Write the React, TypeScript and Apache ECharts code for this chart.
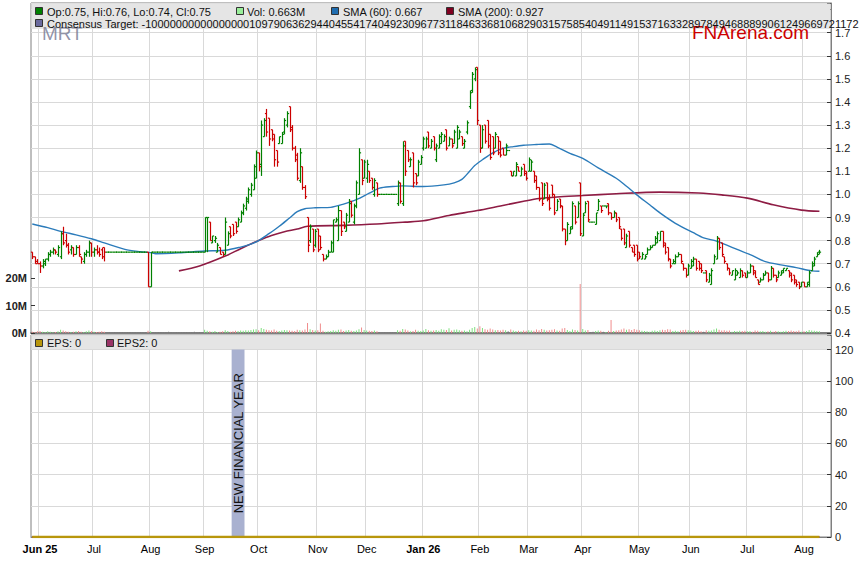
import React, { useEffect, useRef } from "react";
import * as echarts from "echarts";

const FONT = "'Liberation Sans', Arial, Helvetica, sans-serif";

// ---------- categories / ticks ----------
const slotCount = 311;
const monthStarts = [3, 24, 46, 67, 88, 111, 130, 152, 174, 193, 214, 236, 256, 278, 300];
const monthLabels = ["Jun 25", "Jul", "Aug", "Sep", "Oct", "Nov", "Dec", "Jan 26", "Feb", "Mar", "Apr", "May", "Jun", "Jul", "Aug"];
const yearLabels = ["Jun 25", "Jan 26"];

// ---------- daily OHLC (open, high, low, close) ----------
const ohlc: number[][] = [
  [0.75,0.75,0.72,0.73],[0.73,0.73,0.70,0.70],[0.71,0.72,0.70,0.70],[0.70,0.71,0.66,0.69],[0.69,0.72,0.68,0.71],
  [0.70,0.72,0.69,0.72],[0.72,0.75,0.71,0.74],[0.74,0.76,0.73,0.75],[0.75,0.77,0.74,0.76],[0.76,0.76,0.74,0.75],
  [0.74,0.78,0.73,0.77],[0.73,0.84,0.72,0.83],[0.83,0.86,0.78,0.79],[0.80,0.83,0.77,0.78],[0.78,0.79,0.74,0.75],
  [0.76,0.78,0.74,0.77],[0.77,0.77,0.73,0.74],[0.74,0.78,0.74,0.77],[0.77,0.78,0.73,0.74],[0.73,0.73,0.70,0.72],
  [0.71,0.75,0.70,0.74],[0.74,0.76,0.73,0.75],[0.75,0.80,0.73,0.79],[0.79,0.79,0.73,0.75],[0.75,0.77,0.73,0.76],
  [0.76,0.78,0.74,0.75],[0.75,0.77,0.73,0.74],[0.76,0.77,0.72,0.73],[0.77,0.77,0.71,0.75],
  [0.75,0.75,0.75,0.75],[0.75,0.75,0.75,0.75],[0.75,0.75,0.75,0.75],[0.75,0.75,0.75,0.75],[0.75,0.75,0.75,0.75],
  [0.75,0.75,0.75,0.75],[0.75,0.75,0.75,0.75],[0.75,0.75,0.75,0.75],[0.75,0.75,0.75,0.75],[0.75,0.75,0.75,0.75],
  [0.75,0.75,0.75,0.75],[0.75,0.75,0.75,0.75],[0.75,0.75,0.75,0.75],[0.75,0.75,0.75,0.75],[0.75,0.75,0.75,0.75],
  [0.75,0.75,0.75,0.75],
  [0.75,0.75,0.60,0.60],[0.60,0.75,0.60,0.75],
  [0.75,0.75,0.75,0.75],[0.75,0.75,0.75,0.75],[0.75,0.75,0.75,0.75],[0.75,0.75,0.75,0.75],[0.75,0.75,0.75,0.75],
  [0.75,0.75,0.75,0.75],[0.75,0.75,0.75,0.75],[0.75,0.75,0.75,0.75],[0.75,0.75,0.75,0.75],[0.75,0.75,0.75,0.75],
  [0.75,0.75,0.75,0.75],[0.75,0.75,0.75,0.75],[0.75,0.75,0.75,0.75],[0.75,0.75,0.75,0.75],[0.75,0.75,0.75,0.75],
  [0.75,0.75,0.75,0.75],[0.75,0.75,0.75,0.75],[0.75,0.75,0.75,0.75],[0.75,0.75,0.75,0.75],[0.75,0.75,0.75,0.75],
  [0.75,0.90,0.75,0.90],[0.90,0.90,0.75,0.90],[0.88,0.88,0.80,0.80],[0.79,0.82,0.79,0.82],[0.80,0.82,0.79,0.81],
  [0.75,0.79,0.75,0.78],[0.77,0.77,0.74,0.74],[0.75,0.75,0.73,0.74],[0.74,0.90,0.74,0.88],[0.78,0.84,0.78,0.83],
  [0.86,0.86,0.81,0.82],[0.87,0.87,0.82,0.83],[0.88,0.88,0.83,0.84],[0.86,0.90,0.86,0.89],[0.88,0.93,0.88,0.92],
  [0.92,0.96,0.91,0.95],[0.94,0.99,0.93,0.98],[0.97,1.03,0.96,1.02],[1.00,1.05,0.99,1.04],[1.02,1.13,1.02,1.12],
  [1.07,1.19,1.07,1.18],[1.18,1.18,1.10,1.12],[1.13,1.32,1.08,1.30],[1.25,1.33,1.25,1.32],[1.35,1.37,1.25,1.27],
  [1.33,1.33,1.21,1.24],[1.28,1.28,1.23,1.24],[1.26,1.26,1.12,1.15],[1.19,1.19,1.12,1.14],[1.22,1.25,1.22,1.25],
  [1.22,1.27,1.22,1.26],[1.27,1.33,1.26,1.32],[1.30,1.36,1.29,1.35],
  [1.38,1.38,1.27,1.28],[1.29,1.30,1.19,1.20],[1.20,1.21,1.14,1.15],[1.17,1.18,1.06,1.07],[1.06,1.20,1.05,1.18],
  [1.12,1.12,1.02,1.03],[1.03,1.04,0.98,0.99],[0.90,0.90,0.75,0.78],[0.80,0.87,0.79,0.86],[0.85,0.85,0.75,0.76],
  [0.78,0.85,0.77,0.84],[0.85,0.85,0.75,0.76],[0.82,0.82,0.76,0.77],[0.74,0.74,0.71,0.72],[0.72,0.74,0.72,0.73],
  [0.73,0.76,0.73,0.75],[0.75,0.80,0.75,0.79],[0.75,0.89,0.75,0.89],[0.88,0.90,0.88,0.89],[0.80,0.95,0.80,0.93],
  [0.93,0.93,0.82,0.84],[0.88,0.88,0.85,0.86],[0.84,0.92,0.84,0.91],[0.88,0.98,0.88,0.96],[0.97,0.97,0.90,0.91],
  [0.88,0.96,0.87,0.95],[0.95,1.06,0.94,1.05],[1.00,1.20,1.00,1.18],[1.15,1.15,1.04,1.06],[1.07,1.15,1.07,1.14],
  [1.07,1.15,1.05,1.13],[1.10,1.10,1.05,1.06],[1.07,1.07,1.02,1.03],[1.00,1.07,0.99,1.06],[1.05,1.05,0.99,1.00],
  [1.00,1.00,1.00,1.00],[1.00,1.00,1.00,1.00],[1.00,1.00,1.00,1.00],[1.00,1.00,1.00,1.00],[1.00,1.00,1.00,1.00],
  [1.00,1.00,1.00,1.00],[1.00,1.00,1.00,1.00],
  [0.96,1.06,0.95,1.05],[1.05,1.05,0.96,0.97],[0.96,1.23,0.95,1.21],[1.23,1.23,1.08,1.10],[1.19,1.19,1.14,1.15],
  [1.12,1.16,1.12,1.15],[1.18,1.18,1.03,1.05],[1.09,1.09,1.04,1.05],[1.08,1.15,1.08,1.14],[1.13,1.17,1.13,1.16],
  [1.20,1.25,1.19,1.24],[1.20,1.25,1.20,1.24],[1.27,1.27,1.20,1.21],[1.20,1.24,1.20,1.23],[1.25,1.25,1.19,1.20],
  [1.15,1.22,1.14,1.21],[1.20,1.26,1.20,1.25],[1.22,1.27,1.22,1.26],[1.23,1.26,1.23,1.25],[1.28,1.28,1.19,1.20],
  [1.21,1.25,1.21,1.24],[1.24,1.24,1.20,1.21],[1.22,1.28,1.22,1.27],[1.20,1.30,1.20,1.29],[1.24,1.28,1.24,1.27],
  [1.25,1.25,1.21,1.22],[1.20,1.24,1.20,1.23],[1.27,1.32,1.26,1.31],[1.38,1.45,1.37,1.44],[1.45,1.53,1.44,1.52],
  [1.50,1.55,1.49,1.54],[1.55,1.55,1.30,1.32],[1.30,1.30,1.18,1.20],[1.20,1.30,1.20,1.28],[1.30,1.30,1.22,1.23],
  [1.32,1.32,1.20,1.21],[1.26,1.26,1.15,1.16],[1.25,1.25,1.17,1.18],[1.20,1.27,1.20,1.26],[1.25,1.25,1.17,1.18],
  [1.23,1.23,1.16,1.17],[1.20,1.20,1.17,1.17],[1.17,1.22,1.17,1.21],[1.19,1.19,1.19,1.19],[1.10,1.10,1.08,1.08],
  [1.08,1.10,1.08,1.10],[1.08,1.14,1.08,1.13],[1.12,1.12,1.10,1.10],[1.08,1.12,1.08,1.11],[1.13,1.13,1.08,1.09],
  [1.10,1.10,1.06,1.07],[1.10,1.16,1.10,1.15],[1.10,1.15,1.10,1.14],[1.10,1.10,1.05,1.06],[1.08,1.08,1.02,1.03],
  [1.03,1.03,0.97,0.98],[1.05,1.05,0.95,0.96],[0.98,1.05,0.98,1.04],[1.05,1.05,0.97,0.98],[0.98,1.00,0.93,0.94],
  [1.04,1.04,0.99,1.00],[1.00,1.00,0.91,0.92],[0.93,0.98,0.93,0.97],[0.98,0.98,0.94,0.95],[0.95,0.95,0.84,0.85],
  [0.85,0.85,0.78,0.80],[0.80,0.88,0.80,0.87],[0.83,0.86,0.83,0.86],[0.85,0.97,0.85,0.96],[0.95,0.95,0.87,0.88],
  [0.90,0.97,0.90,0.96],[1.05,1.05,0.82,0.83],[0.82,0.92,0.82,0.91],[0.92,0.97,0.92,0.96],[0.97,0.97,0.88,0.89],
  [0.88,0.88,0.88,0.88],[0.88,0.88,0.88,0.88],[0.87,0.92,0.87,0.92],[0.93,0.98,0.93,0.97],[0.95,0.95,0.92,0.93],
  [0.95,0.95,0.95,0.95],[0.95,0.95,0.94,0.95],[0.96,0.96,0.91,0.92],[0.92,0.92,0.89,0.90],[0.90,0.93,0.90,0.92],
  [0.92,0.92,0.88,0.89],[0.90,0.90,0.85,0.86],[0.85,0.85,0.80,0.81],[0.85,0.85,0.78,0.79],[0.77,0.83,0.77,0.82],
  [0.84,0.84,0.77,0.78],[0.77,0.77,0.75,0.75],[0.78,0.78,0.73,0.74],[0.78,0.78,0.71,0.72],[0.75,0.75,0.72,0.73],
  [0.72,0.75,0.72,0.74],[0.72,0.74,0.72,0.73],[0.74,0.77,0.74,0.76],[0.76,0.78,0.76,0.77],[0.77,0.78,0.77,0.78],
  [0.78,0.82,0.78,0.81],[0.79,0.84,0.79,0.83],[0.80,0.84,0.80,0.84],[0.84,0.84,0.77,0.78],[0.79,0.79,0.74,0.75],
  [0.77,0.77,0.71,0.72],[0.72,0.72,0.68,0.69],[0.70,0.72,0.70,0.71],[0.70,0.74,0.70,0.73],[0.73,0.75,0.73,0.74],
  [0.74,0.74,0.70,0.71],[0.70,0.70,0.67,0.68],[0.68,0.68,0.64,0.65],[0.65,0.70,0.65,0.69],[0.68,0.72,0.68,0.71],
  [0.69,0.73,0.69,0.72],[0.72,0.72,0.67,0.68],[0.71,0.71,0.67,0.68],[0.70,0.70,0.66,0.67],[0.66,0.66,0.66,0.66],
  [0.67,0.67,0.62,0.63],[0.62,0.66,0.62,0.65],[0.61,0.68,0.61,0.67],[0.70,0.74,0.70,0.73],[0.72,0.82,0.72,0.81],
  [0.81,0.81,0.76,0.77],[0.79,0.79,0.73,0.74],[0.73,0.73,0.70,0.71],[0.70,0.70,0.67,0.68],[0.68,0.68,0.65,0.66],
  [0.65,0.67,0.65,0.67],[0.63,0.68,0.63,0.67],[0.65,0.67,0.65,0.66],[0.64,0.68,0.64,0.67],[0.67,0.67,0.64,0.65],
  [0.66,0.66,0.64,0.64],[0.64,0.67,0.64,0.66],[0.66,0.70,0.66,0.69],[0.69,0.69,0.65,0.66],[0.67,0.67,0.64,0.64],
  [0.63,0.63,0.61,0.61],[0.62,0.64,0.62,0.63],[0.63,0.66,0.63,0.65],[0.65,0.67,0.65,0.66],[0.66,0.66,0.62,0.63],
  [0.63,0.69,0.63,0.68],[0.68,0.68,0.64,0.65],[0.65,0.65,0.62,0.63],[0.64,0.67,0.64,0.66],[0.65,0.67,0.65,0.67],
  [0.66,0.68,0.66,0.68],[0.67,0.68,0.67,0.68],[0.67,0.67,0.64,0.65],[0.66,0.66,0.62,0.63],[0.65,0.65,0.61,0.62],
  [0.63,0.63,0.60,0.61],[0.62,0.62,0.59,0.60],[0.60,0.62,0.60,0.62],[0.62,0.62,0.60,0.60],[0.60,0.62,0.60,0.62],
  [0.61,0.67,0.60,0.66],[0.67,0.71,0.67,0.70],[0.69,0.73,0.69,0.72],[0.73,0.75,0.73,0.74],[0.75,0.76,0.74,0.75],
];

// ---------- daily volume (millions) ----------
const volumeM: number[] = [
  0.5,0.4,0.6,0.7,0.5,0.4,0.6,0.5,0.3,0.4, 0.6,1.2,0.9,0.6,0.5,0.4,0.5,0.6,0.7,0.5, 0.4,0.6,0.9,0.7,0.5,0.4,0.5,0.6,0.5,
  0.2,0.3,0.2,0.4,0.3,0.2,0.3,0.2,0.3,0.4,0.2,0.3,0.2,0.3,0.2,0.3,
  0.8,0.6,
  0.3,0.2,0.3,0.4,0.2,0.3,0.5,0.3,0.2,0.4,0.3,0.2,0.3,0.4,0.2,0.3,0.5,0.3,0.4,0.3,
  1.2,0.8,0.6,0.5,0.7,0.4,0.5,0.6,1.0,0.7, 0.5,0.6,0.8,0.7,0.9,0.8,1.0,0.9,1.1,1.3, 1.4,1.0,1.8,1.5,1.2,1.0,0.9,1.3,0.8,0.7, 0.9,1.1,1.0,
  0.9,0.8,0.7,1.2,1.0,0.9,1.3,3.6,1.4,1.1, 0.9,1.0,3.5,0.8,0.5,0.6,0.7,1.0,0.8,1.2, 1.3,0.7,0.9,1.1,0.8,0.7,0.9,1.4,2.0,1.1,
  0.9,0.8,0.7,0.9,0.6,0.3,0.2,0.3,0.2,0.2, 0.3,0.2,1.0,
  0.8,1.5,1.3,0.9,0.6,0.7,1.2,0.8,0.7,0.9, 1.5,1.0,0.8,0.9,1.1,0.8,1.4,1.2,1.1,1.7, 0.9,1.2,1.3,1.0,0.8,0.9,0.6,1.2,1.8,2.2,
  1.6,2.5,1.8,1.4,1.2,1.6,1.3,1.0,1.1,0.9, 1.2,1.0,0.6,1.3,0.9,0.7,0.8,0.6,0.9,0.8, 1.0,0.9,0.8,1.3,1.0,1.5,1.2,0.9,1.0,
  1.2,1.4,0.9,0.8,1.6,1.8,1.1,0.7,1.3,1.1, 0.9,17.8,1.5,0.9,1.1,0.4,0.5,0.7,0.9,0.8, 0.5,0.4,0.8,4.7,0.7,0.9,1.0,1.3,1.6,1.2,
  1.4,1.1,1.5,1.2,1.0,0.8,0.7,0.6,0.5,0.8, 0.9,0.7,1.0,1.2,1.1,1.4,1.3,0.7,0.8,0.6, 0.9,1.1,1.2,1.0,0.9,0.7,0.8,0.9,0.6,0.5,
  1.0,0.8,0.9,1.3,1.6,1.2,0.9,1.0,0.8,0.9, 0.5,0.7,0.6,0.8,0.7,0.8,0.6,0.7,0.5,0.9, 0.8,0.6,0.7,0.5,0.6,0.8,0.5,0.7,0.6,0.5,
  0.6,0.8,0.7,0.9,0.7,0.6,0.9,0.5,0.6,0.7, 1.1,0.9,0.8,0.7,0.663,
];

// ---------- moving averages (slot, value) ----------
const sma60Points: [number, number][] = [
  [0,0.872],[6,0.856],[11,0.84],[17,0.825],[23,0.808],[28,0.79],[36,0.762],[42,0.752],[46,0.748],[48,0.743],
  [57,0.747],[67,0.755],[75,0.758],[81,0.772],[85,0.785],[88,0.80],[92,0.83],[96,0.862],[100,0.898],[103,0.925],
  [106,0.938],[110,0.942],[116,0.944],[121,0.958],[126,0.977],[131,1.005],[135,1.027],[140,1.034],[144,1.037],
  [152,1.034],[160,1.041],[164,1.05],[167,1.065],[170,1.10],[172,1.125],[175,1.15],[179,1.18],[183,1.199],
  [187,1.207],[191,1.213],[196,1.216],[201,1.218],[204,1.205],[209,1.178],[214,1.156],[220,1.115],[227,1.07],
  [231,1.035],[235,0.998],[240,0.955],[244,0.92],[250,0.875],[257,0.834],[261,0.812],[266,0.798],[270,0.78],
  [274,0.762],[280,0.735],[285,0.709],[291,0.695],[297,0.683],[303,0.669],[306,0.667],
];
const sma200Points: [number, number][] = [
  [57,0.669],[65,0.69],[75,0.733],[81,0.765],[88,0.80],[93,0.822],[98,0.838],[103,0.85],[107,0.862],[121,0.866],
  [134,0.872],[145,0.88],[152,0.886],[162,0.909],[173,0.93],[182,0.95],[191,0.97],[197,0.982],[204,0.989],
  [214,0.995],[227,1.003],[244,1.01],[259,1.006],[268,0.998],[278,0.984],[288,0.955],[299,0.932],[306,0.927],
];

// ---------- lower panel ----------
const epsPoints: [number, number][] = [[0, 0], [306, 0]];
const eps2Points: [number, number][] = [[0, 0], [306, 0]];
const fyBand: [number, number, number][] = [[78, 120, 82]];
const fyLabel = "NEW FINANCIAL YEAR";

const ticker = "MRT";
const consensusText =
  "Consensus Target: -1000000000000000010979063629440455417404923096773118463368106829031575854049114915371633289784946888990612496697211721172";

export default function App() {
  const ref = useRef<HTMLDivElement>(null);

  useEffect(() => {
    if (!ref.current) return;
    const chart = echarts.init(ref.current, undefined, { renderer: "svg" });

    const cats = Array.from({ length: slotCount }, (_, i) => String(i));
    const monthSet = new Set(monthStarts);
    const last = ohlc[ohlc.length - 1];
    const lastVol = volumeM[volumeM.length - 1];
    const lastS60 = sma60Points[sma60Points.length - 1][1];
    const lastS200 = sma200Points[sma200Points.length - 1][1];

    const volData = volumeM.map((v, i) => {
      const [o, h, l, c] = ohlc[i];
      const color = o === c && h === l ? "#7a7a7a" : c >= o ? "#7fe07f" : "#f08c8c";
      return { value: v, itemStyle: { color } };
    });

    const splitMonths = (idx: number) => monthSet.has(idx);

    const swatch = (x: number, y: number, fill: string) => ({
      type: "rect",
      shape: { x: x + 0.5, y: y + 0.5, width: 7, height: 7 },
      style: { fill, stroke: "#333", lineWidth: 1 },
      z: 110,
      silent: true,
    });
    const label = (x: number, y: number, text: string, extra: any = {}) => ({
      type: "text",
      x,
      y,
      style: {
        text,
        fill: "#111",
        fontSize: 11,
        fontFamily: FONT,
        verticalAlign: "middle",
        align: "left",
        ...extra,
      },
      z: 120,
      silent: true,
    });

    const option: any = {
      animation: false,
      backgroundColor: "#ffffff",
      grid: [
        { left: 31, right: 28, top: 3, height: 330, show: true, borderColor: "#7f7f7f", borderWidth: 1, backgroundColor: "transparent" },
        { left: 31, right: 28, top: 278, height: 55, show: false },
        { left: 31, right: 28, top: 335, height: 202, show: true, borderColor: "#7f7f7f", borderWidth: 1, backgroundColor: "transparent" },
      ],
      xAxis: [
        {
          type: "category", gridIndex: 0, data: cats, boundaryGap: true,
          axisLine: { show: true, lineStyle: { color: "#7f7f7f", width: 2 } },
          axisTick: { show: false }, axisLabel: { show: false },
          splitLine: { show: true, interval: splitMonths, lineStyle: { color: "#d9d9d9", width: 1 } },
        },
        { type: "category", gridIndex: 1, data: cats, boundaryGap: true, show: false },
        {
          type: "category", gridIndex: 2, data: cats, boundaryGap: true,
          axisLine: { show: true, lineStyle: { color: "#7f7f7f", width: 1 } },
          axisTick: { show: false },
          axisLabel: {
            show: true,
            interval: splitMonths,
            margin: 6,
            color: "#000",
            fontSize: 11,
            fontFamily: FONT,
            formatter: (_v: string, idx: number) => {
              const k = monthStarts.indexOf(idx);
              if (k < 0) return "";
              const t = monthLabels[k];
              return yearLabels.includes(t) ? `{b|${t}}` : t;
            },
            rich: { b: { fontWeight: "bold", fontSize: 11, fontFamily: FONT, color: "#000" } },
          },
          splitLine: { show: true, interval: splitMonths, lineStyle: { color: "#d9d9d9", width: 1 } },
        },
      ],
      yAxis: [
        {
          type: "value", gridIndex: 0, position: "right", min: 0.4, max: 0.4 + 330 / 231, interval: 0.1,
          axisLine: { show: true, lineStyle: { color: "#7f7f7f" } },
          axisTick: { show: true, inside: true, length: 4, lineStyle: { color: "#333" } },
          axisLabel: {
            margin: 4, color: "#222", fontSize: 11, fontFamily: FONT,
            formatter: (v: number) => (v > 1.75 ? "" : v.toFixed(1)),
          },
          splitLine: { show: true, lineStyle: { color: "#d9d9d9", width: 1 } },
        },
        {
          type: "value", gridIndex: 1, position: "left", min: 0, max: 20, interval: 10,
          axisLine: { show: false },
          axisTick: { show: true, inside: true, length: 4, lineStyle: { color: "#333" } },
          axisLabel: {
            margin: 4, color: "#222", fontSize: 11, fontWeight: "bold", fontFamily: FONT,
            formatter: (v: number) => `${v}M`,
          },
          splitLine: { show: false },
        },
        {
          type: "value", gridIndex: 2, position: "right", min: 0, max: 202 / 1.5625, interval: 20,
          axisLine: { show: true, lineStyle: { color: "#7f7f7f" } },
          axisTick: { show: true, inside: true, length: 4, lineStyle: { color: "#333" } },
          axisLabel: {
            margin: 4, color: "#222", fontSize: 11, fontFamily: FONT,
            formatter: (v: number) => (v > 121 ? "" : String(Math.round(v))),
          },
          splitLine: { show: true, lineStyle: { color: "#d9d9d9", width: 1 } },
        },
      ],
      series: [
        {
          type: "bar", xAxisIndex: 1, yAxisIndex: 1, data: volData, barWidth: 1, z: 1,
        },
        {
          type: "line", xAxisIndex: 0, yAxisIndex: 0, data: sma200Points, showSymbol: false, symbol: "none",
          smooth: 0.3, lineStyle: { color: "#8e1c44", width: 1.6 }, z: 3,
        },
        {
          type: "line", xAxisIndex: 0, yAxisIndex: 0, data: sma60Points, showSymbol: false, symbol: "none",
          smooth: 0.3, lineStyle: { color: "#2b7bba", width: 1.4 }, z: 3,
        },
        {
          type: "custom", xAxisIndex: 0, yAxisIndex: 0, z: 4,
          data: ohlc.map((b, i) => [i, b[0], b[1], b[2], b[3]]),
          encode: { x: 0, y: [1, 2, 3, 4] },
          renderItem: (_p: any, api: any) => {
            const i = api.value(0);
            const o = api.value(1), h = api.value(2), l = api.value(3), c = api.value(4);
            const pH = api.coord([i, h]);
            const pL = api.coord([i, l]);
            const pO = api.coord([i, o]);
            const pC = api.coord([i, c]);
            const x = Math.round(pH[0]) + 0.5;
            const color = c >= o ? "#008000" : "#cc0000";
            const st = { stroke: color, lineWidth: 1.2 };
            const t = 1.6;
            return {
              type: "group",
              children: [
                { type: "line", shape: { x1: x, y1: pH[1], x2: x, y2: pL[1] + 0.01 }, style: st },
                { type: "line", shape: { x1: x - t, y1: pO[1], x2: x, y2: pO[1] }, style: st },
                { type: "line", shape: { x1: x, y1: pC[1], x2: x + t, y2: pC[1] }, style: st },
              ],
            };
          },
        },
        {
          type: "custom", xAxisIndex: 2, yAxisIndex: 2, z: 2,
          data: fyBand,
          encode: { x: [0, 2], y: 1 },
          renderItem: (_p: any, api: any) => {
            const a = api.value(0), top = api.value(1), b = api.value(2);
            const p0 = api.coord([a, top]);
            const p1 = api.coord([b, 0]);
            const bw = api.size([1, 0])[0];
            const x0 = p0[0] - bw / 2;
            const x1 = p1[0] + bw / 2;
            return {
              type: "group",
              children: [
                { type: "rect", shape: { x: x0, y: p0[1], width: x1 - x0, height: p1[1] - p0[1] }, style: { fill: "#a9b1d0" } },
                {
                  type: "text",
                  x: (x0 + x1) / 2,
                  y: (p0[1] + p1[1]) / 2,
                  rotation: Math.PI / 2,
                  style: { text: fyLabel, fill: "#111", fontSize: 13, fontFamily: FONT, align: "center", verticalAlign: "middle" },
                },
              ],
            };
          },
        },
        {
          type: "line", xAxisIndex: 2, yAxisIndex: 2, data: eps2Points, showSymbol: false, symbol: "none",
          lineStyle: { color: "#993366", width: 2 }, z: 5,
        },
        {
          type: "line", xAxisIndex: 2, yAxisIndex: 2, data: epsPoints, showSymbol: false, symbol: "none",
          lineStyle: { color: "#b8960c", width: 2.5 }, z: 6,
        },
      ],
      graphic: [
        { type: "rect", shape: { x: 31.5, y: 3.5, width: 799, height: 25.5 }, style: { fill: "#e5e5e5" }, z: 100, silent: true },
        { type: "rect", shape: { x: 31.5, y: 335.5, width: 799, height: 13.5 }, style: { fill: "#e5e5e5" }, z: 100, silent: true },
        swatch(35, 7, "#008000"),
        label(47, 11.5, `Op:${last[0].toFixed(2)}, Hi:${last[1].toFixed(2)}, Lo:${last[2].toFixed(2)}, Cl:${last[3].toFixed(2)}`),
        swatch(236, 7, "#99ee99"),
        label(247, 11.5, `Vol: ${lastVol.toFixed(3)}M`),
        swatch(331, 7, "#1f6db0"),
        label(343, 11.5, `SMA (60): ${lastS60.toFixed(3)}`),
        swatch(446, 7, "#800020"),
        label(458, 11.5, `SMA (200): ${lastS200.toFixed(3)}`),
        {
          type: "text", x: 42, y: 33,
          style: { text: ticker, fill: "#7d8098", fontSize: 19, fontFamily: FONT, verticalAlign: "middle", align: "left", opacity: 0.85 },
          z: 115, silent: true,
        },
        {
          type: "text", x: 692, y: 32,
          style: { text: "FNArena.com", fill: "#cc0000", fontSize: 19, fontFamily: FONT, verticalAlign: "middle", align: "left" },
          z: 115, silent: true,
        },
        swatch(35, 19, "#6a6a9e"),
        label(47, 23.5, consensusText),
        swatch(35, 339, "#b8960c"),
        label(47, 343, "EPS: 0"),
        swatch(106, 339, "#993366"),
        label(117, 343, "EPS2: 0"),
      ],
    };

    chart.setOption(option);
    return () => chart.dispose();
  }, []);

  return (
    <div
      ref={ref}
      style={{ position: "fixed", left: 0, top: 0, width: 859, height: 566, background: "#fff" }}
    />
  );
}
